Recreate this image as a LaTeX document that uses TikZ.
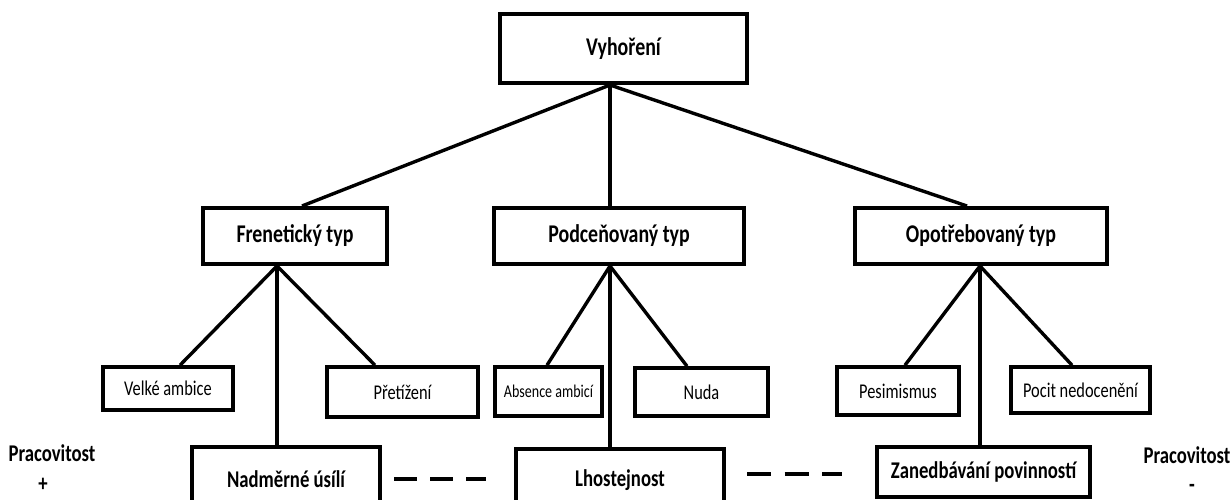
\documentclass[tikz,border=0pt]{standalone}
\usepackage{fontspec}
\setmainfont{Carlito}[FakeStretch=0.78]
\usetikzlibrary{calc}
\begin{document}
\begin{tikzpicture}[x=1pt,y=-1pt,
  box/.style={draw, line width=4pt, inner sep=0pt, align=center},
  topbox/.style={box, font=\fontsize{25.5}{30}\selectfont\bfseries},
  botbox/.style={box, font=\fontsize{24}{28}\selectfont\bfseries},
  leaf/.style={box, line width=3.6pt, font=\fontsize{21}{25}\selectfont},
  conn/.style={line width=3.4pt},
  dashline/.style={line width=3.4pt},
  side/.style={font=\fontsize{24}{28}\selectfont\bfseries, inner sep=0pt}
]
\useasboundingbox (0,0) rectangle (1232,499);
\clip (0,0) rectangle (1232,499);

% top level
\node[topbox, minimum width=247pt, minimum height=69pt] (V) at (623.5,48.5) {Vyhoření};
% second level
\node[topbox, minimum width=184pt, minimum height=56pt] (F) at (295,236) {Frenetický typ};
\node[topbox, minimum width=250pt, minimum height=56pt] (P) at (619,236) {Podceňovaný typ};
\node[topbox, minimum width=252pt, minimum height=56pt] (O) at (981,236) {Opotřebovaný typ};
% leaves
\node[leaf, minimum width=130pt, minimum height=43pt] (VA) at (168,388.5) {Velké ambice};
\node[leaf, minimum width=151pt, minimum height=50pt] (PR) at (402.5,392) {Přetížení};
\node[leaf, minimum width=107pt, minimum height=49pt, font=\fontsize{18}{22}\selectfont] (AA) at (548.5,391.5) {Absence ambicí};
\node[leaf, minimum width=133pt, minimum height=48pt] (NU) at (701.5,392) {Nuda};
\node[leaf, minimum width=122pt, minimum height=48pt] (PE) at (898,391) {Pesimismus};
\node[leaf, minimum width=139pt, minimum height=46pt] (PN) at (1080.5,390) {Pocit nedocenění};
% bottom row
\node[botbox, minimum width=188pt, minimum height=64pt] (NA) at (286,479) {Nadměrné úsílí};
\node[botbox, minimum width=208pt, minimum height=62pt] (LH) at (620,480) {Lhostejnost};
\node[botbox, minimum width=213pt, minimum height=50pt] (ZA) at (983.5,472) {Zanedbávání povinností};
% side labels
\node[side] (PL) at (52,453) {Pracovitost};
\node[side] (PLs) at (43,485) {+};
\node[side] (PRt) at (1187,455) {Pracovitost};
\node[side] (PRs) at (1192,488) {-};

% connectors from top
\draw[conn] ([xshift=-13.5pt]V.south) -- ([xshift=7pt]F.north);
\draw[conn] ([xshift=-13.5pt]V.south) -- ([xshift=-9pt]P.north);
\draw[conn] ([xshift=-13.5pt]V.south) -- ([xshift=-14pt]O.north);
% Frenetický
\draw[conn] ([xshift=-18pt]F.south) -- ([xshift=12pt]VA.north);
\draw[conn] ([xshift=-18pt]F.south) -- ([xshift=-27.5pt]PR.north);
\draw[conn] ([xshift=-18pt]F.south) -- ([xshift=-9pt]NA.north);
% Podceňovaný
\draw[conn] ([xshift=-9pt]P.south) -- ([xshift=-1.5pt]AA.north);
\draw[conn] ([xshift=-9pt]P.south) -- ([xshift=-14.5pt]NU.north);
\draw[conn] ([xshift=-9pt]P.south) -- ([xshift=-10pt]LH.north);
% Opotřebovaný
\draw[conn] ([xshift=-1pt]O.south) -- ([xshift=7pt]PE.north);
\draw[conn] ([xshift=-1pt]O.south) -- ([xshift=-8.5pt]PN.north);
\draw[conn] ([xshift=-1pt]O.south) -- ([xshift=-3.5pt]ZA.north);

% dashed links
\draw[dashline, dash pattern=on 23pt off 13pt] ([xshift=12pt]NA.east) -- ([xshift=-28pt]LH.west |- NA.east);
\draw[dashline, dash pattern=on 24pt off 13.5pt] ([xshift=21pt,yshift=6pt]LH.east) -- ([xshift=-33pt,yshift=-2pt]ZA.west);
\end{tikzpicture}
\end{document}
